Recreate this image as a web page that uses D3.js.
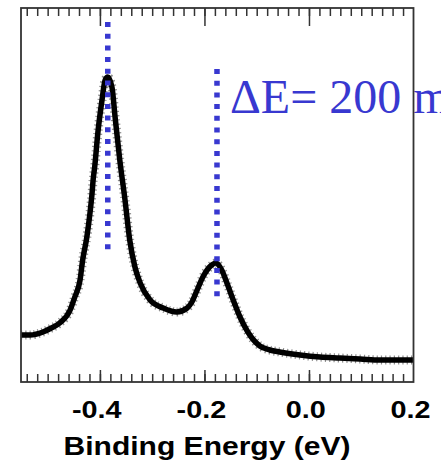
<!DOCTYPE html>
<html><head><meta charset="utf-8">
<script src="https://cdn.jsdelivr.net/npm/d3@7"></script>
<style>html,body{margin:0;padding:0;background:#fff;}svg{display:block;}</style>
</head><body>
<svg id="c" width="441" height="465"></svg>
<script>
// Photoemission spectrum (binding energy in eV, intensity arb. units)
const energy = [-0.551,-0.534,-0.509,-0.493,-0.477,-0.457,-0.448,-0.438,-0.433,-0.425,-0.419,-0.415,-0.413,-0.410,-0.404,-0.396,-0.390,-0.385,-0.377,-0.371,-0.362,-0.352,-0.343,-0.333,-0.323,-0.304,-0.279,-0.253,-0.233,-0.224,-0.214,-0.203,-0.186,-0.178,-0.167,-0.157,-0.145,-0.132,-0.117,-0.094,-0.075,-0.056,-0.017,0.021,0.059,0.098,0.136,0.199];
const intensity = [47,47,50,54,59,72,85,102,122,145,169,189,202,215,249,282,302,305,295,265,222,182,142,115,99,82,74,70,74,80,92,105,117,119,112,99,82,65,50,36,32,30,27,25,24,23,22,22];
const peakEnergy = [-0.385,-0.176];
const peakTop = [360,313];
const peakBottom = [130,80];
const majorTicks = [-0.4,-0.2,0.0,0.2];
const minorTicks = d3.range(-54,20,2).map(v=>v/100);
const xTitle = "Binding Energy (eV)";
const annotation = "\u0394E= 200 meV";

const svg = d3.select("#c");
const x = d3.scaleLinear().domain([-0.551,0.2]).range([21,413.5]);
const y = d3.scaleLinear().domain([0,374]).range([382,8]);
const data = energy.map((e,i)=>({e, v:intensity[i]}));
const blue = "#3838d0";

// annotation text (drawn under frame)
svg.append("text").attr("x",230).attr("y",113)
  .attr("font-family","'Liberation Serif','Times New Roman',serif")
  .attr("font-size",48).attr("fill",blue).text(annotation);

// spectrum
const line = d3.line().x(d=>x(d.e)).y(d=>y(d.v)).curve(d3.curveMonotoneX);
svg.append("path").datum(data).attr("d",line).attr("fill","none")
  .attr("stroke","#444").attr("stroke-width",9).attr("stroke-dasharray","1.2 3.1").attr("opacity",0.6);
svg.append("path").datum(data).attr("d",line).attr("fill","none")
  .attr("stroke","#000").attr("stroke-width",5.5).attr("stroke-linejoin","round");

// dotted peak markers
peakEnergy.forEach((p,i)=>{
  svg.append("line").attr("x1",x(p)).attr("x2",x(p))
    .attr("y1",y(peakTop[i])).attr("y2",y(peakBottom[i]))
    .attr("stroke",blue).attr("stroke-width",5.5).attr("stroke-dasharray","5 6.7");
});

// frame
svg.append("rect").attr("x",21).attr("y",8).attr("width",392.5).attr("height",374)
  .attr("fill","none").attr("stroke","#333").attr("stroke-width",1.8);

// ticks
function tickAxis(gen, ty){
  const g = svg.append("g").attr("transform",`translate(0,${ty})`).call(gen);
  g.select(".domain").remove();
  g.selectAll(".tick line").attr("stroke","#333").attr("stroke-width",1.5);
  return g;
}
tickAxis(d3.axisTop(x).tickValues(minorTicks).tickSize(-8).tickFormat(""), 8);
tickAxis(d3.axisTop(x).tickValues(majorTicks.slice(0,3)).tickSize(-18).tickFormat(""), 8);
tickAxis(d3.axisBottom(x).tickValues(minorTicks).tickSize(-8).tickFormat(""), 382);
const gl = tickAxis(d3.axisBottom(x).tickValues(majorTicks).tickSize(-12).tickFormat(d3.format(".1f")), 382);
gl.selectAll(".tick").filter(d=>d>=0.2).select("line").remove();
gl.selectAll(".tick text").attr("y",36).attr("dy",0).attr("dx",-3)
  .attr("transform","scale(1.2,1)")
  .attr("font-family","'Liberation Sans',Arial,sans-serif").attr("font-weight","bold")
  .attr("font-size",24).attr("fill","#000")
  .text(d=>d3.format(".1f")(d).replace("\u2212","-"));

// x title
svg.append("text").attr("x",207).attr("y",455).attr("text-anchor","middle")
  .attr("font-family","'Liberation Sans',Arial,sans-serif").attr("font-weight","bold")
  .attr("font-size",25).attr("fill","#000")
  .attr("textLength",287).attr("lengthAdjust","spacingAndGlyphs").text(xTitle);
</script>
</body></html>
